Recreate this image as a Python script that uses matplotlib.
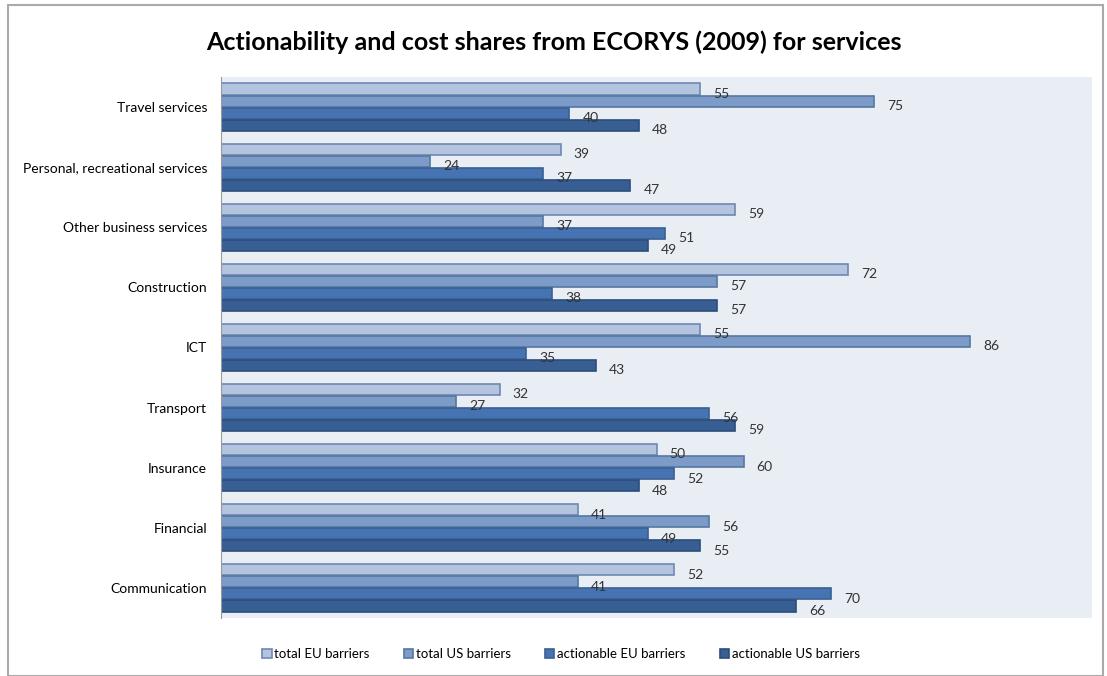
import numpy as np
import matplotlib.pyplot as plt
from matplotlib.patches import Rectangle

plt.rcParams['font.family'] = ['Lato', 'DejaVu Sans']

categories = ['Travel services', 'Personal, recreational services', 'Other business services',
              'Construction', 'ICT', 'Transport', 'Insurance', 'Financial', 'Communication']
total_eu = [55, 39, 59, 72, 55, 32, 50, 41, 52]
total_us = [75, 24, 37, 57, 86, 27, 60, 56, 41]
action_eu = [40, 37, 51, 38, 35, 56, 52, 49, 70]
action_us = [48, 47, 49, 57, 43, 59, 48, 55, 66]

series = [
    ('total EU barriers', total_eu, '#b4c4de', '#6d88b5'),
    ('total US barriers', total_us, '#7c9bc9', '#56779f'),
    ('actionable EU barriers', action_eu, '#4673b1', '#3a5f92'),
    ('actionable US barriers', action_us, '#385f93', '#2c4d7a'),
]

fig = plt.figure(figsize=(11.07, 6.76), dpi=100)
ax = fig.add_axes([221 / 1107, 1 - 618 / 676, (1092 - 221) / 1107, (618 - 77) / 676])
ax.set_facecolor('#e9edf4')

y = np.arange(len(categories))
h = 0.2
for i, (name, vals, fc, ec) in enumerate(series):
    pos = y - 0.3 + i * h
    ax.barh(pos, vals, height=h * 0.92, color=fc, edgecolor=ec, linewidth=1.2, label=name)
    for p, v in zip(pos, vals):
        ax.text(v + 1.5, p + 0.08, str(v), va='center', ha='left', fontsize=10, color='#333333')

ax.set_xlim(0, 100)
ax.set_ylim(len(categories) - 0.5, -0.5)
ax.set_yticks(y)
ax.set_yticklabels(categories, fontsize=10)
ax.tick_params(axis='y', length=0, pad=10)
ax.set_xticks([])
for s in ['top', 'right', 'bottom']:
    ax.spines[s].set_visible(False)
ax.spines['left'].set_color('#999999')

fig.suptitle('Actionability and cost shares from ECORYS (2009) for services',
             fontsize=18, fontweight='bold', y=0.955)

fig.legend(loc='center', bbox_to_anchor=(561 / 1107, 1 - 654 / 676), ncol=4, frameon=False,
           fontsize=9.5, handlelength=0.7, handleheight=0.7, handletextpad=0.2, columnspacing=2.6)

fig.patches.append(Rectangle((8 / 1107, 0), 1095 / 1107, 1 - 5 / 676, transform=fig.transFigure,
                             fill=False, edgecolor='#aaaaaa', linewidth=1.5))

fig.savefig('out.png', dpi=100)
